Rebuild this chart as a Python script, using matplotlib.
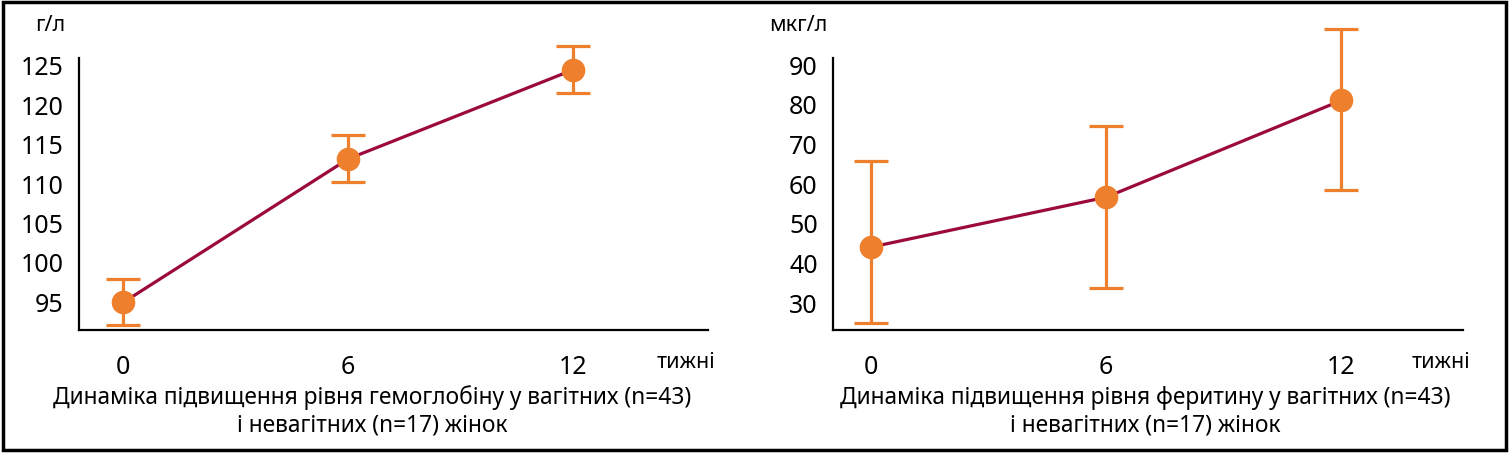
import matplotlib
matplotlib.use("Agg")
import matplotlib.pyplot as plt
from matplotlib.patches import Rectangle

plt.rcParams['font.family'] = ['Noto Sans', 'DejaVu Sans']

# дані
tyzhni = [0, 6, 12]
gemoglobin = [95.0, 113.2, 124.5]
gem_err_lo = [2.9, 2.9, 2.9]
gem_err_hi = [3.0, 3.0, 3.0]
ferytyn = [44.1, 56.7, 81.1]
fer_err_lo = [19.1, 22.9, 22.6]
fer_err_hi = [21.7, 17.9, 17.9]
gem_ticks = [95, 100, 105, 110, 115, 120, 125]
fer_ticks = [30, 40, 50, 60, 70, 80, 90]

orange = "#EE7F2D"
wine = "#9B0A3A"

fig = plt.figure(figsize=(15.09, 4.53), dpi=100)

def panel(rect, y, lo, hi, yticks, ylim, xlim, unit, title, unit_x, title_x):
    ax = fig.add_axes(rect)
    ax.plot(tyzhni, y, color=wine, lw=2.3, zorder=2, clip_on=False)
    ax.errorbar(tyzhni, y, yerr=[lo, hi], fmt='o', color=orange, ms=16,
                ecolor=orange, elinewidth=2.3, capsize=12, capthick=2.3,
                zorder=3, clip_on=False)
    ax.set_xlim(*xlim)
    ax.set_ylim(*ylim)
    ax.set_yticks(yticks)
    ax.set_xticks(tyzhni)
    ax.set_xticklabels([str(t) for t in tyzhni])
    for s in ['top', 'right']:
        ax.spines[s].set_visible(False)
    for s in ['left', 'bottom']:
        ax.spines[s].set_linewidth(1.6)
    ax.tick_params(axis='y', length=0, pad=11, labelsize=18)
    ax.tick_params(axis='x', length=0, pad=18, labelsize=18)
    ax.text(unit_x, 1.12, unit, transform=ax.transAxes, fontsize=15.5,
            ha='right', va='center')
    ax.text(0.965, -0.121, "тижні", transform=ax.transAxes, fontsize=15.5,
            ha='center', va='center')
    ax.text(title_x, -0.30, title, transform=ax.transAxes, fontsize=16.4,
            ha='center', va='center', linespacing=1.2)
    return ax

panel([0.0524, 0.2715, 0.4168, 0.6005], gemoglobin, gem_err_lo, gem_err_hi,
      gem_ticks, (91.5, 126.0), (-1.18, 15.6), "г/л",
      "Динаміка підвищення рівня гемоглобіну у вагітних (n=43)\nі невагітних (n=17) жінок",
      -0.021, 0.466)
panel([0.552, 0.2715, 0.4175, 0.6005], ferytyn, fer_err_lo, fer_err_hi,
      fer_ticks, (23.2, 91.8), (-0.97, 15.1), "мкг/л",
      "Динаміка підвищення рівня феритину у вагітних (n=43)\nі невагітних (n=17) жінок",
      -0.008, 0.495)

fig.patches.append(Rectangle((0.002, 0.006), 0.996, 0.99, transform=fig.transFigure,
                             fill=False, edgecolor='black', lw=2.5))

fig.savefig("out.png", dpi=100)
